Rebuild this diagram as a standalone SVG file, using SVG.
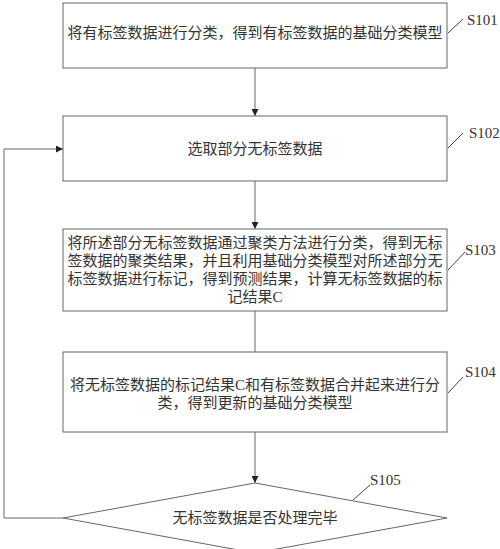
<svg xmlns="http://www.w3.org/2000/svg" width="500" height="549" viewBox="0 0 500 549">
<defs>
<style>
.box{fill:#fff;stroke:#666;stroke-width:1}
.t{font-family:"Liberation Serif","Noto Sans CJK SC",serif;font-size:15px;fill:#333;text-anchor:middle}
.lbl{font-family:"Liberation Serif","Noto Sans CJK SC",serif;font-size:15px;fill:#333}
.ln{fill:none;stroke:#666;stroke-width:1}
.ld{fill:none;stroke:#444;stroke-width:1}
</style>
<marker id="ah" viewBox="0 0 10 10" refX="10" refY="5" markerWidth="7" markerHeight="7" orient="auto" markerUnits="userSpaceOnUse">
<path d="M0,0 L10,5 L0,10 z" fill="#222"/>
</marker>
</defs>
<rect width="500" height="549" fill="#fff"/>
<g id="connectors">
<line class="ln" x1="255" y1="68" x2="255" y2="116" marker-end="url(#ah)"/>
<line class="ln" x1="255" y1="181" x2="255" y2="229" marker-end="url(#ah)"/>
<line class="ln" x1="255" y1="311" x2="255" y2="352"/>
<line class="ln" x1="255" y1="432" x2="255" y2="483" marker-end="url(#ah)"/>
<polyline class="ln" points="63,518 4,518 4,149 63,149" marker-end="url(#ah)"/>
</g>
<g id="S101">
<rect class="box" x="63" y="3" width="384" height="65"/>
<text class="t" x="255" y="38">将有标签数据进行分类，得到有标签数据的基础分类模型</text>
<line class="ld" x1="448" y1="33" x2="463" y2="19"/>
<text class="lbl" x="467" y="25">S101</text>
</g>
<g id="S102">
<rect class="box" x="63" y="116" width="384" height="65"/>
<text class="t" x="255" y="154">选取部分无标签数据</text>
<line class="ld" x1="448" y1="148" x2="463" y2="133"/>
<text class="lbl" x="469" y="138">S102</text>
</g>
<g id="S103">
<rect class="box" x="63" y="229" width="384" height="82"/>
<text class="t" x="255" y="248">将所述部分无标签数据通过聚类方法进行分类，得到无标</text>
<text class="t" x="255" y="266">签数据的聚类结果，并且利用基础分类模型对所述部分无</text>
<text class="t" x="255" y="284">标签数据进行标记，得到预测结果，计算无标签数据的标</text>
<text class="t" x="255" y="302">记结果C</text>
<line class="ld" x1="448" y1="270" x2="465" y2="252"/>
<text class="lbl" x="465" y="255">S103</text>
</g>
<g id="S104">
<rect class="box" x="63" y="352" width="384" height="80"/>
<text class="t" x="255" y="390">将无标签数据的标记结果C和有标签数据合并起来进行分</text>
<text class="t" x="255" y="408">类，得到更新的基础分类模型</text>
<line class="ld" x1="448" y1="393" x2="463" y2="377"/>
<text class="lbl" x="465" y="377">S104</text>
</g>
<g id="S105">
<polygon class="box" points="255,483 447,518 255,553 63,518"/>
<text class="t" x="255" y="523">无标签数据是否处理完毕</text>
<line class="ld" x1="353" y1="500" x2="370" y2="485"/>
<text class="lbl" x="370" y="485">S105</text>
</g>
</svg>
